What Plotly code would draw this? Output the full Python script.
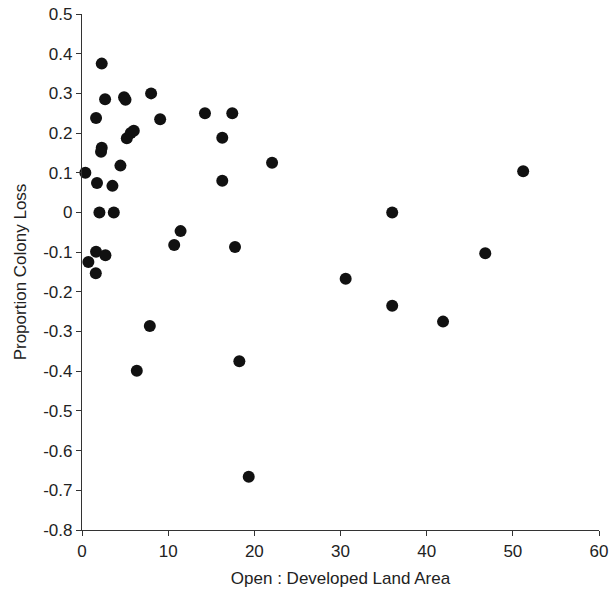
import plotly.graph_objects as go

open_dev_ratio = [2.29, 2.68, 4.88, 5.05, 8.02, 1.63, 9.07, 5.20, 5.66, 6.01,
                  2.29, 2.21, 0.39, 4.46, 1.74, 3.53, 2.02, 3.69, 1.63, 2.72,
                  0.74, 1.60, 11.44, 10.70, 7.87, 6.36, 14.27, 17.44, 16.28, 22.06,
                  16.28, 17.76, 18.26, 19.35, 51.2, 36.0, 46.8, 30.6, 36.0, 41.9]
colony_loss = [0.375, 0.285, 0.290, 0.284, 0.300, 0.238, 0.235, 0.187, 0.200, 0.206,
               0.163, 0.153, 0.100, 0.118, 0.074, 0.067, 0.0, 0.0, -0.099, -0.108,
               -0.125, -0.153, -0.047, -0.082, -0.286, -0.399, 0.250, 0.250, 0.188, 0.125,
               0.080, -0.087, -0.375, -0.666, 0.104, 0.0, -0.103, -0.167, -0.235, -0.275]

x_ticks = [0, 10, 20, 30, 40, 50, 60]
y_ticks = [0.5, 0.4, 0.3, 0.2, 0.1, 0, -0.1, -0.2, -0.3, -0.4, -0.5, -0.6, -0.7, -0.8]
y_tick_text = ["0.5", "0.4", "0.3", "0.2", "0.1", "0", "-0.1", "-0.2", "-0.3", "-0.4",
               "-0.5", "-0.6", "-0.7", "-0.8"]

fig = go.Figure(go.Scatter(
    x=open_dev_ratio, y=colony_loss, mode="markers",
    marker=dict(color="#111111", size=12, line=dict(width=0)),
    cliponaxis=False, showlegend=False,
))

font = dict(family="Liberation Sans, Arial, sans-serif", size=14, color="#222222")
tickfont = dict(family="Liberation Sans, Arial, sans-serif", size=17, color="#222222")
fig.update_layout(
    width=610, height=589,
    margin=dict(l=82, r=11, t=14, b=59),
    paper_bgcolor="white", plot_bgcolor="white",
    font=font,
)
fig.update_xaxes(
    range=[0, 60], tickvals=x_ticks, showline=True, linecolor="#333333", linewidth=1.2,
    ticks="outside", ticklen=5, tickcolor="#333333", showgrid=False, zeroline=False,
    tickfont=tickfont, automargin=False,
    title=dict(text="Open : Developed Land Area", standoff=12),
)
fig.update_yaxes(
    range=[-0.8, 0.5], tickvals=y_ticks, ticktext=y_tick_text, showline=True,
    linecolor="#333333", linewidth=1.2, ticks="outside", ticklen=5, tickcolor="#333333",
    showgrid=False, zeroline=False, tickfont=tickfont, automargin=False,
    title=dict(text="Proportion Colony Loss", standoff=12),
)

fig.write_html("out.html", config={"displayModeBar": False},
               post_script="document.body.style.margin='0';")
